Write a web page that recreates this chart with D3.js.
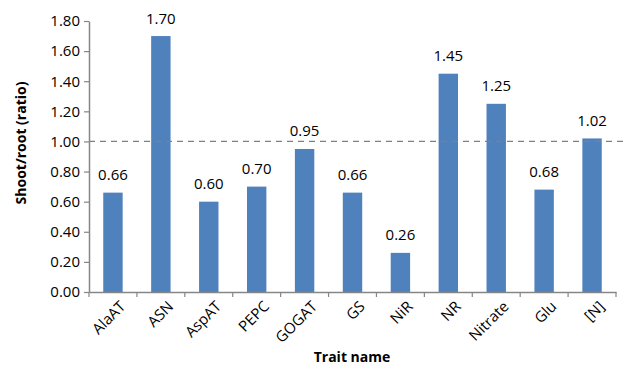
<!DOCTYPE html>
<html><head><meta charset="utf-8">
<script src="https://cdn.jsdelivr.net/npm/d3@7"></script>
<style>body{margin:0;background:#fff}svg{display:block}</style>
</head><body>
<svg id="chart" width="633" height="371"></svg>
<script>
const categories = ["AlaAT","ASN","AspAT","PEPC","GOGAT","GS","NiR","NR","Nitrate","Glu","[N]"];
const values = [0.66,1.70,0.60,0.70,0.95,0.66,0.26,1.45,1.25,0.68,1.02];
const yTicks = [0,0.2,0.4,0.6,0.8,1.0,1.2,1.4,1.6,1.8];
const refValue = 1.0;

(function(){
const svg = d3.select("#chart");
const font = "'Open Sans', sans-serif";
const mLeft = 89, mRight = 616, mTop = 21, mBottom = 292;
const x = d3.scaleBand().domain(categories).range([mLeft, mRight]).paddingInner(0.595).paddingOuter(0.2975);
const y = d3.scaleLinear().domain([0, 1.8]).range([mBottom, mTop]);
const axisColor = "#868686";

svg.selectAll("rect.bar").data(values).enter().append("rect")
  .attr("x", (d,i) => x(categories[i]))
  .attr("y", d => y(d))
  .attr("width", x.bandwidth())
  .attr("height", d => y(0) - y(d))
  .attr("fill", "#4F81BD");

svg.selectAll("text.val").data(values).enter().append("text")
  .attr("x", (d,i) => x(categories[i]) + x.bandwidth()/2)
  .attr("y", d => y(d) - 12.5)
  .attr("text-anchor", "middle")
  .attr("font-family", font).attr("font-size", 15).attr("fill", "#000")
  .text(d => d.toFixed(2));

svg.append("line")
  .attr("x1", mLeft).attr("x2", 628)
  .attr("y1", y(refValue)).attr("y2", y(refValue))
  .attr("stroke", "#808080").attr("stroke-width", 1.2).attr("stroke-dasharray", "6,5");

const yAxis = d3.axisLeft(y).tickValues(yTicks).tickFormat(d3.format(".2f")).tickSize(5).tickSizeOuter(0);
const gy = svg.append("g").attr("transform", `translate(${mLeft},0)`).call(yAxis);
gy.select(".domain").attr("stroke", axisColor).attr("stroke-width", 1.5);
gy.selectAll(".tick line").attr("stroke", axisColor).attr("stroke-width", 1.2);
gy.selectAll(".tick text").attr("font-family", font).attr("font-size", 15).attr("fill", "#000").attr("x", -9);

const xAxis = d3.axisBottom(x).tickSize(0).tickSizeOuter(0);
const gx = svg.append("g").attr("transform", `translate(0,${mBottom})`).call(xAxis);
gx.select(".domain").attr("stroke", axisColor).attr("stroke-width", 1.5);
gx.selectAll(".tick text")
  .attr("font-family", font).attr("font-size", 15).attr("fill", "#000")
  .attr("text-anchor", "end")
  .attr("transform", "translate(6,8) rotate(-45)")
  .attr("x", 0).attr("y", 0).attr("dy", "0.7em");
const bounds = d3.range(categories.length + 1).map(i => mLeft + i * (mRight - mLeft) / categories.length);
svg.selectAll("line.xt").data(bounds).enter().append("line")
  .attr("x1", d => d).attr("x2", d => d)
  .attr("y1", mBottom).attr("y2", mBottom + 5)
  .attr("stroke", axisColor).attr("stroke-width", 1.2);

svg.append("text").attr("transform", "translate(26,143) rotate(-90)")
  .attr("text-anchor", "middle").attr("font-family", font).attr("font-weight", "bold")
  .attr("font-size", 14).attr("fill", "#000").text("Shoot/root (ratio)");
svg.append("text").attr("x", 352).attr("y", 362)
  .attr("text-anchor", "middle").attr("font-family", font).attr("font-weight", "bold")
  .attr("font-size", 14).attr("fill", "#000").text("Trait name");
})();
</script>
</body></html>
